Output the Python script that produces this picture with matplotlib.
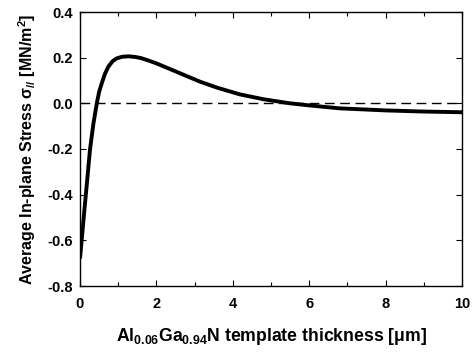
import matplotlib
matplotlib.use("Agg")
import matplotlib.pyplot as plt
from matplotlib.ticker import MultipleLocator

plt.rcParams['font.family'] = ['Liberation Sans', 'DejaVu Sans']
plt.rcParams['font.weight'] = 'bold'
plt.rcParams['mathtext.fontset'] = 'custom'
plt.rcParams['mathtext.rm'] = 'Liberation Sans:bold'
plt.rcParams['mathtext.bf'] = 'Liberation Sans:bold'
plt.rcParams['mathtext.it'] = 'Liberation Sans:bold:italic'
plt.rcParams['mathtext.default'] = 'bf'

thickness = [0, 0.065, 0.13, 0.2, 0.26, 0.35, 0.44, 0.5, 0.57, 0.65, 0.74, 0.85,
             0.95, 1.1, 1.27, 1.45, 1.6, 1.8, 2.0, 2.5, 3.14, 3.6, 4.19, 4.8,
             5.5, 6.0, 6.8, 8.0, 9.0, 10.0]
stress = [-0.68, -0.56, -0.44, -0.315, -0.205, -0.09, 0.0, 0.05, 0.088, 0.128,
          0.16, 0.184, 0.196, 0.204, 0.206, 0.203, 0.198, 0.187, 0.175, 0.14,
          0.095, 0.068, 0.039, 0.018, 0.0, -0.009, -0.022, -0.031, -0.036, -0.039]

fig = plt.figure(figsize=(4.75, 3.52), dpi=100)
ax = fig.add_axes([80/475, 66/352, 382/475, 274/352])

ax.axhline(0, color='black', lw=1.0, ls=(0, (7, 4)), zorder=1)
ax.plot(thickness, stress, color='black', lw=2.8, solid_capstyle='butt',
        solid_joinstyle='round', zorder=2)

ax.set_xlim(0, 10)
ax.set_ylim(-0.8, 0.4)
ax.xaxis.set_major_locator(MultipleLocator(2))
ax.xaxis.set_minor_locator(MultipleLocator(1))
ax.yaxis.set_major_locator(MultipleLocator(0.2))
ax.xaxis.set_major_formatter(plt.FuncFormatter(lambda v, p: f"{v:.0f}"))
ax.yaxis.set_major_formatter(plt.FuncFormatter(lambda v, p: f"{v:.1f}"))

ax.tick_params(which='both', direction='in', top=True, right=True, width=0.8)
ax.tick_params(which='major', length=4, labelsize=10.5)
ax.tick_params(axis='x', which='major', pad=8)
ax.tick_params(axis='y', which='major', pad=5)
ax.tick_params(which='minor', length=3)
for s in ax.spines.values():
    s.set_linewidth(1.0)

ax.set_xlabel(r"Al$_{0.06}$Ga$_{0.94}$N template thickness [μm]", fontsize=12.7, fontweight='bold', labelpad=11)
ax.set_ylabel(r"Average In-plane Stress $\sigma_{//}$ [MN/m$^2$]", fontsize=11.5, fontweight='bold', labelpad=7)

fig.savefig("out.png", dpi=100)
